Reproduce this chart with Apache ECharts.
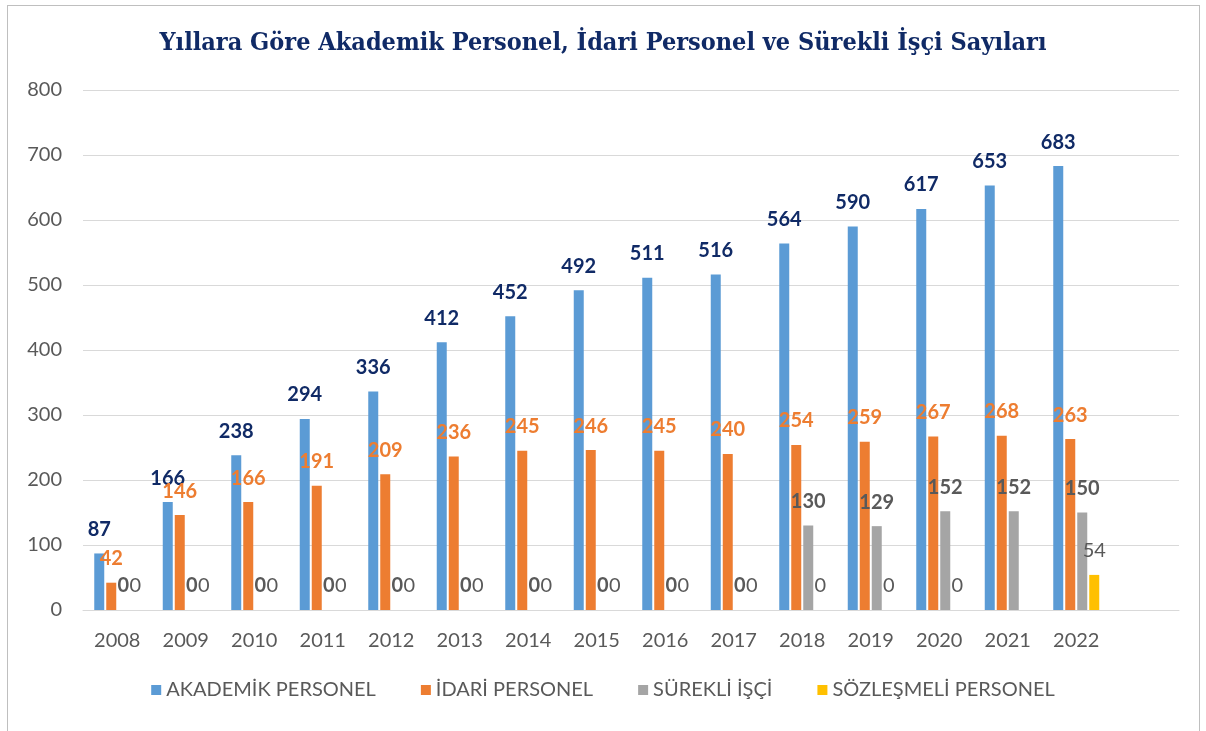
<!DOCTYPE html>
<html>
<head>
<meta charset="utf-8">
<script src="https://cdn.jsdelivr.net/npm/echarts@6/dist/echarts.min.js"></script>
<style>
  html, body { margin: 0; padding: 0; background: #fff; }
  #chart { width: 1206px; height: 731px; }
  .frame {
    position: absolute; left: 7px; top: 5px; width: 1191px; height: 740px;
    border: 1px solid #bfbfbf; pointer-events: none;
  }
</style>
</head>
<body>
<div id="chart"></div>
<div class="frame"></div>
<script>
// yıllar (son kategori boş bırakıldı, orijinaldeki sağ boşluk için)
const years = ["2008", "2009", "2010", "2011", "2012", "2013", "2014", "2015",
  "2016", "2017", "2018", "2019", "2020", "2021", "2022", ""];

const akademik = [87, 166, 238, 294, 336, 412, 452, 492, 511, 516, 564, 590, 617, 653, 683];
const idari = [42, 146, 166, 191, 209, 236, 245, 246, 245, 240, 254, 259, 267, 268, 263];
const surekli = [0, 0, 0, 0, 0, 0, 0, 0, 0, 0, 130, 129, 152, 152, 150];
const sozlesmeli = [0, 0, 0, 0, 0, 0, 0, 0, 0, 0, 0, 0, 0, null, 54];

const yTicks = [0, 100, 200, 300, 400, 500, 600, 700, 800];

const font = "Lato";
const navy = "#102a66";

function barSeries(name, data, color, labelColor, bold) {
  return {
    name: name,
    type: "bar",
    data: data,
    barWidth: 10,
    barGap: "20%",
    itemStyle: { color: color },
    label: {
      show: true,
      position: "top",
      distance: 14,
      color: labelColor,
      fontFamily: font,
      fontSize: 20,
      fontWeight: bold ? "bold" : "normal"
    }
  };
}

const chart = echarts.init(document.getElementById("chart"));

chart.setOption({
  animation: false,
  title: {
    text: "Yıllara Göre Akademik Personel, İdari Personel ve Sürekli İşçi Sayıları",
    left: "center",
    top: 26,
    textStyle: {
      fontFamily: "DejaVu Serif Condensed, Liberation Serif",
      fontSize: 25,
      fontWeight: "bold",
      color: navy
    }
  },
  legend: {
    bottom: 26,
    left: "center",
    itemWidth: 10,
    itemHeight: 10,
    itemGap: 45,
    icon: "rect",
    textStyle: { fontFamily: font, fontSize: 20, color: "#595959" }
  },
  grid: { left: 83, right: 27, top: 90, bottom: 121, containLabel: false },
  xAxis: {
    type: "category",
    data: years,
    axisTick: { show: false },
    axisLine: { lineStyle: { color: "#d9d9d9", width: 1 } },
    axisLabel: { fontFamily: font, fontSize: 20, color: "#595959", margin: 21 }
  },
  yAxis: {
    type: "value",
    min: yTicks[0],
    max: yTicks[yTicks.length - 1],
    interval: 100,
    axisLine: { show: false },
    axisTick: { show: false },
    splitLine: { lineStyle: { color: "#d9d9d9", width: 1 } },
    axisLabel: { fontFamily: font, fontSize: 20, color: "#595959", margin: 21 }
  },
  series: [
    barSeries("AKADEMİK PERSONEL", akademik, "#5b9bd5", navy, true),
    barSeries("İDARİ PERSONEL", idari, "#ed7d31", "#ed7d31", true),
    barSeries("SÜREKLİ İŞÇİ", surekli, "#a5a5a5", "#595959", true),
    barSeries("SÖZLEŞMELİ PERSONEL", sozlesmeli, "#ffc000", "#595959", false)
  ]
});
</script>
</body>
</html>
